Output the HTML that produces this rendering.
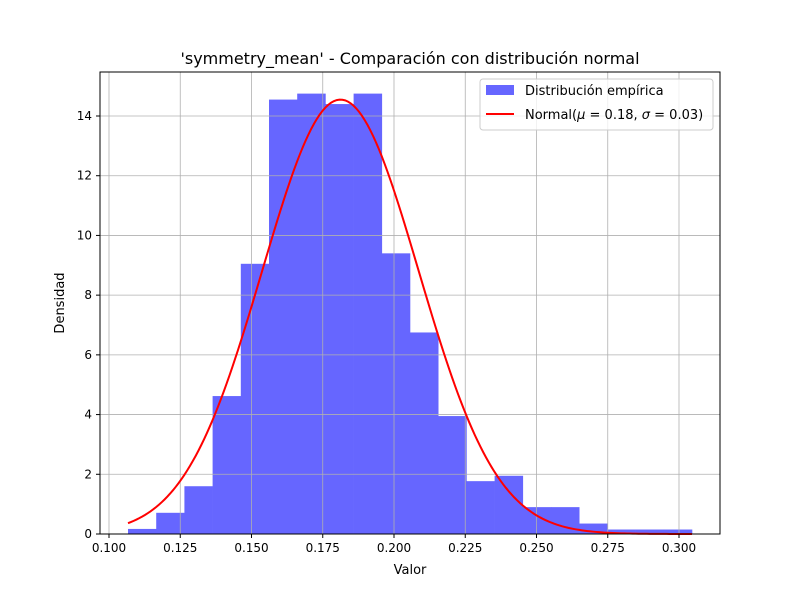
<!DOCTYPE html>
<html><head><meta charset="utf-8"><style>
body{margin:0;background:#fff;font-family:"Liberation Sans","DejaVu Sans",sans-serif}
svg text{font-family:"DejaVu Sans","Liberation Sans",sans-serif}
</style></head><body>
<svg id="chart" width="800" height="600" xmlns="http://www.w3.org/2000/svg">
<rect width="800" height="600" fill="#fff"/>
<g id="bars"></g>
<g id="grid"></g>
<g id="curve"></g>
<rect x="100" y="72" width="620" height="462" fill="none" stroke="#000" stroke-width="1"/>
<g id="ticks"></g>
<text x="410" y="64" text-anchor="middle" font-size="16">'symmetry_mean' - Comparación con distribución normal</text>
<text x="410" y="574" text-anchor="middle" font-size="13">Valor</text>
<text x="64" y="303" text-anchor="middle" font-size="13" transform="rotate(-90 64 303)">Densidad</text>
<g>
<rect x="480" y="79" width="233" height="51" rx="3" fill="#fff" fill-opacity="0.8" stroke="#ccc"/>
<rect x="486" y="85" width="28" height="10" fill="#6666ff"/>
<text x="525" y="95" font-size="13">Distribución empírica</text>
<line x1="486" y1="114" x2="514" y2="114" stroke="red" stroke-width="2"/>
<text x="525" y="119" font-size="13">Normal(<tspan font-style="italic">μ</tspan> = 0.18, <tspan font-style="italic">σ</tspan> = 0.03)</text>
</g>
</svg>
<script>
const binStart = 0.10667;
const binEnd = 0.30456;
const densities = [0.17,0.71,1.6,4.62,9.05,14.55,14.75,14.4,14.75,9.4,6.75,3.95,1.77,1.95,0.9,0.9,0.35,0.15,0.15,0.15];
const mu = 0.1812;
const sigma = 0.02742;
const xTicks = [0.100,0.125,0.150,0.175,0.200,0.225,0.250,0.275,0.300];
const yTicks = [0,2,4,6,8,10,12,14];
const NS="http://www.w3.org/2000/svg";
const X=v=>109+(v-0.1)*2850;
const Y=v=>534-v*29.857;
function mk(tag,attrs,parent){const e=document.createElementNS(NS,tag);for(const k in attrs)e.setAttribute(k,attrs[k]);parent.appendChild(e);return e;}
const grid=document.getElementById('grid'),bars=document.getElementById('bars'),ticks=document.getElementById('ticks'),curve=document.getElementById('curve');
xTicks.forEach(t=>{const x=X(t);
 const g=mk('line',{x1:x,x2:x,y1:72,y2:534,stroke:'#b0b0b0','stroke-width':0.8},grid);
 
 
 mk('line',{x1:x,x2:x,y1:534,y2:538,stroke:'#000'},ticks);
 const tx=mk('text',{x:x,y:552,'text-anchor':'middle','font-size':12},ticks);tx.textContent=t.toFixed(3);
 
 });
yTicks.forEach(t=>{const y=Y(t);
 const g=mk('line',{x1:100,x2:720,y1:y,y2:y,stroke:'#b0b0b0','stroke-width':0.8},grid);
 
 
 mk('line',{x1:96,x2:100,y1:y,y2:y,stroke:'#000'},ticks);
 const tx=mk('text',{x:92,y:y+4,'text-anchor':'end','font-size':12},ticks);tx.textContent=t;
 
 });
const w=(binEnd-binStart)/densities.length;
densities.forEach((d,i)=>{const x0=X(binStart+i*w),x1=X(binStart+(i+1)*w);
 const r=mk('rect',{x:x0,y:Y(d),width:x1-x0+0.3,height:534-Y(d),fill:'#6666ff'},bars);
 
 });
let pts=[];for(let i=0;i<=200;i++){const v=binStart+(binEnd-binStart)*i/200;const p=Math.exp(-0.5*((v-mu)/sigma)**2)/(sigma*Math.sqrt(2*Math.PI));pts.push(X(v).toFixed(2)+','+Y(p).toFixed(2));}
const pl=mk('polyline',{points:pts.join(' '),fill:'none',stroke:'red','stroke-width':2},curve);


</script>
</body></html>
